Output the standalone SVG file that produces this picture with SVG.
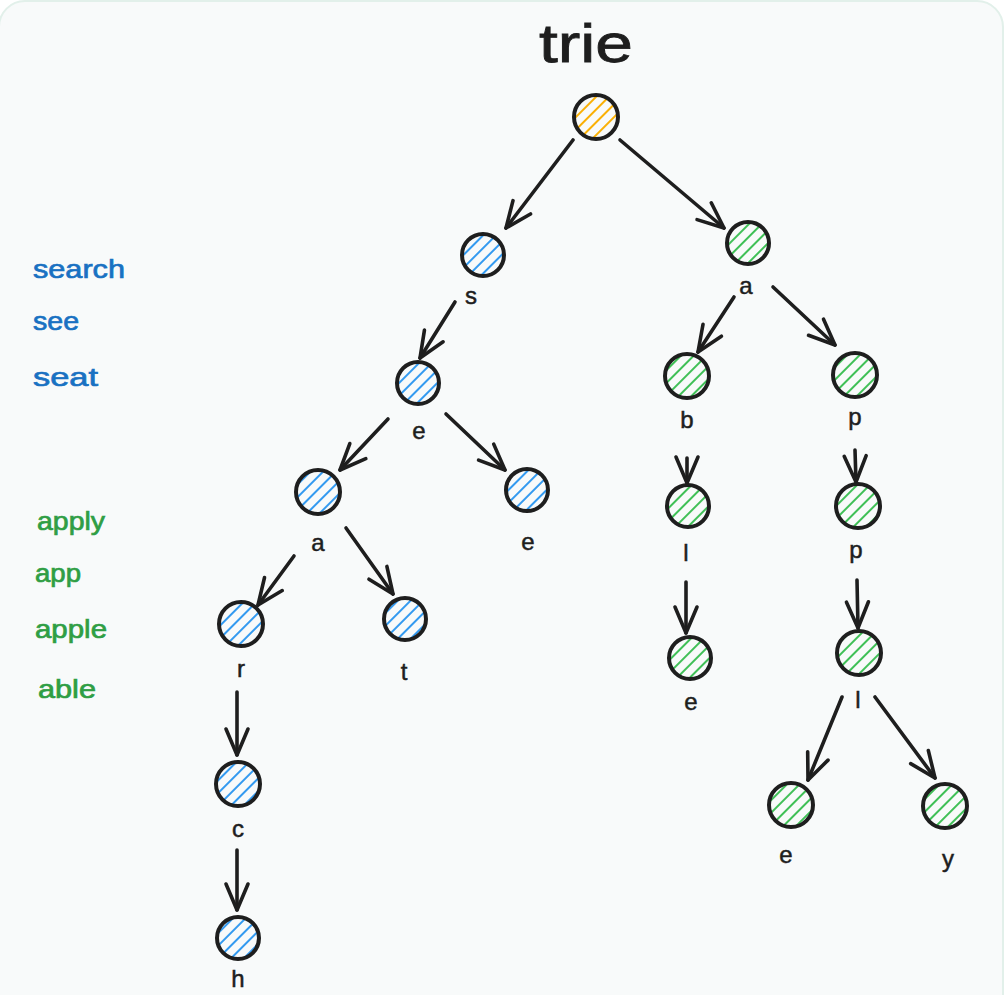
<svg xmlns="http://www.w3.org/2000/svg" width="1004" height="995" viewBox="0 0 1004 995">
  <style>
    .node { stroke: #1e1e1e; stroke-width: 4; }
    .edge { stroke: #1e1e1e; stroke-width: 3.6; stroke-linecap: round; fill: none; marker-end: url(#head); }
    .lbl { font-family: "Liberation Sans", "Open Sans", sans-serif; font-size: 24px; fill: #1e1e1e; stroke: #1e1e1e; stroke-width: 0.5; text-anchor: middle; }
    .word { font-family: "Liberation Sans", "Open Sans", sans-serif; font-size: 26px; stroke-width: 0.7; }
    .blue { fill: #1971c2; stroke: #1971c2; }
    .green { fill: #2f9e44; stroke: #2f9e44; }
  </style>
  <defs>
    <pattern id="hatch-blue" width="9" height="9" patternUnits="userSpaceOnUse" patternTransform="rotate(45)">
      <line x1="4" y1="0" x2="4" y2="9" stroke="#339af0" stroke-width="2"/>
    </pattern>
    <pattern id="hatch-green" width="9" height="9" patternUnits="userSpaceOnUse" patternTransform="rotate(45)">
      <line x1="4" y1="0" x2="4" y2="9" stroke="#40c057" stroke-width="2"/>
    </pattern>
    <pattern id="hatch-yellow" width="9" height="9" patternUnits="userSpaceOnUse" patternTransform="rotate(45)">
      <line x1="4" y1="0" x2="4" y2="9" stroke="#fab005" stroke-width="2"/>
    </pattern>
    <marker id="head" viewBox="-30 -15 34 30" markerWidth="34" markerHeight="30" refX="0" refY="0" orient="auto" markerUnits="userSpaceOnUse">
      <path d="M-26,-11 L0,0 L-26,11" fill="none" stroke="#1e1e1e" stroke-width="3.6" stroke-linecap="round" stroke-linejoin="round"/>
    </marker>
  </defs>

  <!-- canvas -->
  <rect x="0" y="0" width="1004" height="995" fill="#ffffff"/>
  <rect x="-1" y="1" width="1004" height="1020" rx="26" fill="#f8fafa" stroke="#e2f0ea" stroke-width="2"/>

  <!-- title -->
  <text x="586" y="62" font-family="Liberation Sans, Open Sans, sans-serif" font-size="54" fill="#1e1e1e" stroke="#1e1e1e" stroke-width="0.8" text-anchor="middle" textLength="94" lengthAdjust="spacingAndGlyphs">trie</text>

  <!-- word lists -->
  <g id="words-s">
    <text class="word blue" x="33" y="278" textLength="92" lengthAdjust="spacingAndGlyphs">search</text>
    <text class="word blue" x="33" y="330" textLength="46" lengthAdjust="spacingAndGlyphs">see</text>
    <text class="word blue" x="33" y="386" textLength="65" lengthAdjust="spacingAndGlyphs">seat</text>
  </g>
  <g id="words-a">
    <text class="word green" x="37" y="530" textLength="68" lengthAdjust="spacingAndGlyphs">apply</text>
    <text class="word green" x="35" y="582" textLength="46" lengthAdjust="spacingAndGlyphs">app</text>
    <text class="word green" x="35" y="638" textLength="72" lengthAdjust="spacingAndGlyphs">apple</text>
    <text class="word green" x="38" y="698" textLength="58" lengthAdjust="spacingAndGlyphs">able</text>
  </g>

  <!-- connectors -->
  <g id="edges">
    <line class="edge" x1="573" y1="140" x2="506" y2="228"/>
    <line class="edge" x1="620" y1="140" x2="724" y2="228"/>
    <line class="edge" x1="455" y1="302" x2="420" y2="358"/>
    <line class="edge" x1="734" y1="297" x2="698" y2="352"/>
    <line class="edge" x1="773" y1="287" x2="835" y2="345"/>
    <line class="edge" x1="388" y1="419" x2="340" y2="470"/>
    <line class="edge" x1="446" y1="414" x2="505" y2="470"/>
    <line class="edge" x1="294" y1="556" x2="258" y2="605"/>
    <line class="edge" x1="346" y1="528" x2="393" y2="594"/>
    <line class="edge" x1="237" y1="692" x2="237" y2="755"/>
    <line class="edge" x1="237" y1="850" x2="237" y2="910"/>
    <line class="edge" x1="687" y1="458" x2="687" y2="483"/>
    <line class="edge" x1="686" y1="582" x2="686" y2="633"/>
    <line class="edge" x1="855" y1="450" x2="856" y2="482"/>
    <line class="edge" x1="857" y1="580" x2="858" y2="628"/>
    <line class="edge" x1="842" y1="697" x2="808" y2="780"/>
    <line class="edge" x1="875" y1="697" x2="935" y2="778"/>
  </g>

  <!-- nodes -->
  <g id="root"><circle class="node" cx="596" cy="117" r="22" fill="url(#hatch-yellow)"/></g>

  <g id="s"><circle class="node" cx="483" cy="255" r="21" fill="url(#hatch-blue)"/><text class="lbl" x="471" y="304">s</text></g>
  <g id="se"><circle class="node" cx="418" cy="383" r="21" fill="url(#hatch-blue)"/><text class="lbl" x="419" y="439">e</text></g>
  <g id="sea"><circle class="node" cx="318" cy="492" r="22" fill="url(#hatch-blue)"/><text class="lbl" x="318" y="551">a</text></g>
  <g id="see"><circle class="node" cx="527" cy="490" r="21" fill="url(#hatch-blue)"/><text class="lbl" x="528" y="550">e</text></g>
  <g id="sear"><circle class="node" cx="241" cy="624" r="22" fill="url(#hatch-blue)"/><text class="lbl" x="241" y="677">r</text></g>
  <g id="seat"><circle class="node" cx="405" cy="619" r="21" fill="url(#hatch-blue)"/><text class="lbl" x="404" y="680">t</text></g>
  <g id="searc"><circle class="node" cx="238" cy="784" r="22" fill="url(#hatch-blue)"/><text class="lbl" x="238" y="837">c</text></g>
  <g id="search"><circle class="node" cx="238" cy="938" r="21" fill="url(#hatch-blue)"/><text class="lbl" x="238" y="987">h</text></g>

  <g id="a"><circle class="node" cx="748" cy="243" r="21" fill="url(#hatch-green)"/><text class="lbl" x="746" y="294">a</text></g>
  <g id="ab"><circle class="node" cx="687" cy="376" r="22" fill="url(#hatch-green)"/><text class="lbl" x="687" y="428">b</text></g>
  <g id="ap"><circle class="node" cx="855" cy="375" r="22" fill="url(#hatch-green)"/><text class="lbl" x="855" y="425">p</text></g>
  <g id="abl"><circle class="node" cx="688" cy="506" r="21" fill="url(#hatch-green)"/><text class="lbl" x="686" y="561">l</text></g>
  <g id="app"><circle class="node" cx="858" cy="506" r="22" fill="url(#hatch-green)"/><text class="lbl" x="856" y="558">p</text></g>
  <g id="able"><circle class="node" cx="690" cy="658" r="21" fill="url(#hatch-green)"/><text class="lbl" x="691" y="710">e</text></g>
  <g id="appl"><circle class="node" cx="859" cy="653" r="22" fill="url(#hatch-green)"/><text class="lbl" x="858" y="708">l</text></g>
  <g id="apple"><circle class="node" cx="791" cy="805" r="22" fill="url(#hatch-green)"/><text class="lbl" x="786" y="863">e</text></g>
  <g id="apply"><circle class="node" cx="945" cy="806" r="22" fill="url(#hatch-green)"/><text class="lbl" x="948" y="867">y</text></g>
</svg>
